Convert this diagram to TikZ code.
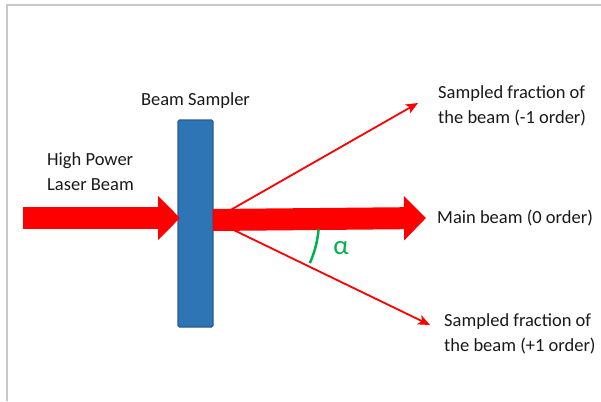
\documentclass[tikz,border=0pt]{standalone}
\usepackage{fontspec}
\setmainfont{Carlito}
\usetikzlibrary{arrows.meta,positioning,calc}
\definecolor{samplerblue}{HTML}{2E75B6}
\definecolor{samplerline}{HTML}{2A5C8C}
\definecolor{anglegreen}{HTML}{00B050}
\definecolor{framegray}{HTML}{C8C8C8}

\begin{document}
\begin{tikzpicture}[x=1pt,y=-1pt,font=\fontsize{18.5}{25}\selectfont]

\tikzstyle{sampler}=[rectangle, minimum width=35pt, minimum height=207pt,
fill=samplerblue, draw=samplerline, line width=1.2pt, rounded corners=1.5pt, inner sep=0pt]

\tikzstyle{label}=[text=black!90, align=left, anchor=west, inner sep=0pt]

\tikzstyle{fat beam}=[draw=red, line width=22pt,
-{Triangle[length=22pt 0,width=43pt 0]}]

\tikzstyle{thin beam}=[draw=red, line width=1.8pt,
-{Stealth[length=12pt 0,width=10pt 0,inset=3pt]}]

% frame
\useasboundingbox (0,0) rectangle (601,401);
\draw[framegray,line width=2pt] (7,401) -- (7,5) -- (601,5);

% the sampler
\node[sampler]
(bs) at (195.5,223.5)
{};

\node[text=black!90]
(bstext) [above=11pt of bs.north, inner sep=0pt]
{Beam Sampler};

% incoming beam
\coordinate (src) at (23,218);
\coordinate (hit) at (180,218);

\node[label]
(hp) at (47,172)
{High Power\\Laser Beam};

% outgoing beams
\coordinate (exit) at (213,220);
\coordinate (mainend) at (426,218);
\coordinate (minus) at (418,103);
\coordinate (plus) at (430,325);

\node[label]
(mtext) [right=11pt of mainend]
{Main beam (0 order)};

\node[label]
(up) at (438,105.5)
{Sampled fraction of\\the beam (-1 order)};

\node[label]
(low) at (444,333.5)
{Sampled fraction of\\the beam (+1 order)};

\path[fat beam] (src) -- (hit);
\path[fat beam] (exit) -- (mainend);
\path[thin beam] (exit) -- (minus);
\path[thin beam] (exit) -- (plus);

% angle
\draw[anglegreen,line width=2.5pt] ($(exit)+(5:106)$) arc[start angle=5,end angle=24,radius=106];
\node[text=anglegreen,font=\fontsize{27}{27}\selectfont]
(alpha) at (341,248)
{α};

\end{tikzpicture}
\end{document}
